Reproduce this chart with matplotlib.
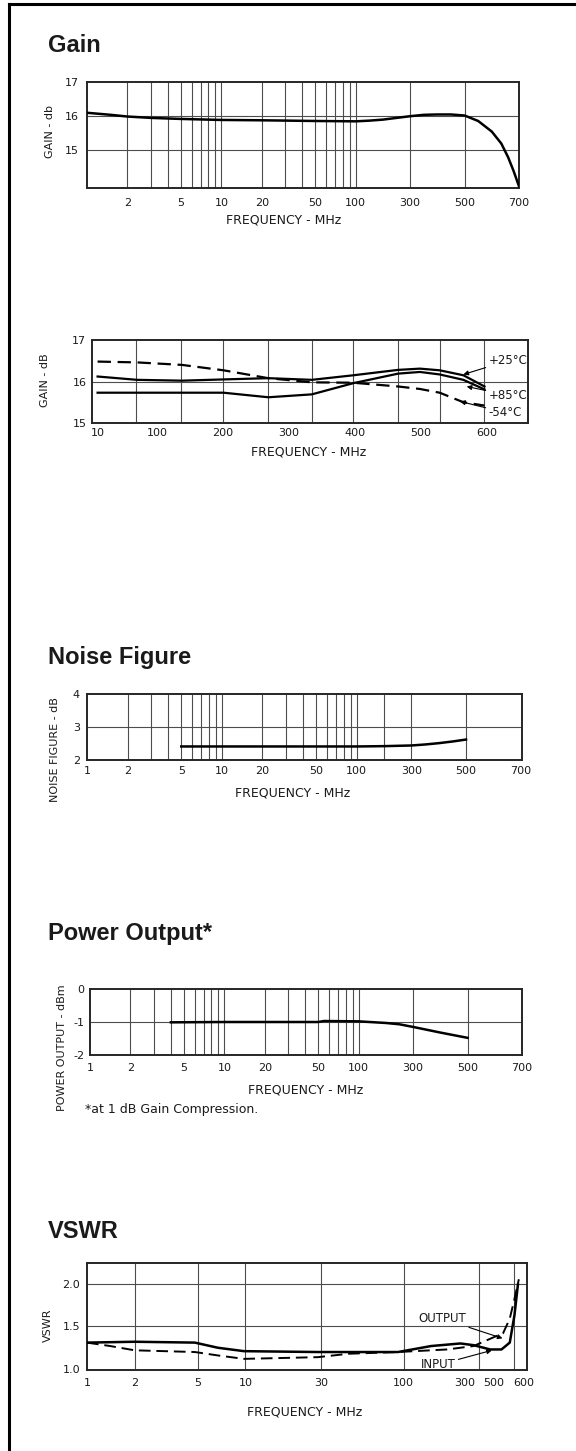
import matplotlib
matplotlib.use('Agg')
import matplotlib.pyplot as plt
import matplotlib.transforms as mtransforms
from matplotlib.lines import Line2D
import numpy as np

# ---- data ----

# gain vs frequency (log/linear frequency axis)
gain_freq = [1, 1.5, 2, 3, 5, 10, 20, 50, 100, 150, 200, 250, 300, 350, 400,
             450, 500, 550, 600, 635, 660, 680, 700]
gain_db = [16.10, 16.04, 15.99, 15.95, 15.92, 15.89, 15.88, 15.86, 15.85, 15.87,
           15.90, 15.95, 16.00, 16.04, 16.05, 16.05, 16.02, 15.86, 15.55, 15.20,
           14.80, 14.40, 13.95]

# gain vs temperature (linear frequency axis)
temp_freq = [10, 70, 138, 201, 269, 335, 398, 466, 499, 529, 565, 597]
gain_p25 = [16.12, 16.04, 16.02, 16.05, 16.08, 16.04, 16.15, 16.28, 16.31, 16.27, 16.15, 15.88]
gain_p85 = [15.73, 15.73, 15.73, 15.73, 15.62, 15.69, 15.96, 16.19, 16.23, 16.17, 16.04, 15.81]
gain_m54 = [16.48, 16.46, 16.40, 16.27, 16.08, 15.98, 15.97, 15.88, 15.82, 15.73, 15.50, 15.42]
temp_labels = ['+25°C', '+85°C', '-54°C']

# noise figure
nf_freq = [5, 10, 50, 100, 200, 300, 350, 400, 450, 500]
nf_db = [2.41, 2.41, 2.41, 2.41, 2.42, 2.44, 2.47, 2.51, 2.56, 2.62]

# power output at 1 dB compression
po_freq = [4, 10, 50, 55, 100, 200, 250, 300, 400, 500]
po_dbm = [-1.01, -1.00, -1.00, -0.97, -0.98, -1.03, -1.07, -1.15, -1.32, -1.48]

# VSWR
vswr_out_freq = [1, 2, 4.8, 6.7, 9.8, 28.7, 92, 149, 228, 276, 351, 414, 467, 500, 526]
vswr_out = [1.31, 1.32, 1.31, 1.25, 1.21, 1.20, 1.20, 1.27, 1.30, 1.28, 1.23, 1.23, 1.31, 1.63, 1.99]
vswr_in_freq = [1, 1.4, 2, 4.8, 6.7, 9.8, 28.7, 45, 92, 188, 276, 367, 424, 467, 500, 533]
vswr_in = [1.31, 1.27, 1.22, 1.20, 1.16, 1.12, 1.14, 1.18, 1.20, 1.23, 1.27, 1.37, 1.42, 1.59, 1.82, 2.05]

# tick / grid values
logx_ticks = [1, 2, 5, 10, 20, 50, 100, 300, 500, 700]
logx_grid = [2, 3, 4, 5, 6, 7, 8, 9, 10, 20, 30, 40, 50, 60, 70, 80, 90, 100, 300, 500]
nf_grid = [2, 3, 4, 5, 6, 7, 8, 9, 10, 20, 30, 40, 50, 60, 70, 80, 90, 100, 200, 300, 500]
temp_ticks = [10, 100, 200, 300, 400, 500, 600]
temp_grid = [69, 137, 201, 268, 335, 398, 466, 529, 597]
vswr_ticks = [1, 2, 5, 10, 30, 100, 300, 500, 600]
vswr_grid = [2, 5, 10, 30, 100, 300, 500]

W, H = 576, 1451
TICK_FONT = ['Liberation Sans Narrow', 'DejaVu Sans']
TITLE_FONT = ['Liberation Sans', 'DejaVu Sans']
FS = 8        # tick labels
FS_X = 9      # x-axis labels / notes
FS_Y = 8      # y-axis labels

fig = plt.figure(figsize=(W / 100, H / 100), dpi=100)
fig.patch.set_facecolor('white')


def box(l, t, r, b):
    return [l / W, 1 - b / H, (r - l) / W, (b - t) / H]


def ftext(x, y, s, **kw):
    kw.setdefault('family', TICK_FONT)
    kw.setdefault('fontsize', FS)
    fig.text(x / W, 1 - y / H, s, color='0.1', **kw)


# log below 100 MHz, linear above (as on the original chart paper)
def fwd(f):
    f = np.clip(np.asarray(f, dtype=float), 1e-3, None)
    return np.where(f <= 100, np.log10(f), 2 + (f - 100) / 200 * 0.405)


def inv(u):
    u = np.asarray(u, dtype=float)
    return np.where(u <= 2, 10 ** np.clip(u, -5, 2), 100 + (u - 2) / 0.405 * 200)


def style(ax, xpad, ypad):
    for s in ax.spines.values():
        s.set_linewidth(1.4)
        s.set_color('0.15')
    ax.tick_params(length=0, labelsize=FS, colors='0.1')
    ax.tick_params(axis='x', pad=xpad)
    ax.tick_params(axis='y', pad=ypad)
    for lab in ax.get_xticklabels() + ax.get_yticklabels():
        lab.set_family(TICK_FONT)


def vgrid(ax, xs, color='0.3', lw=0.8):
    for x in xs:
        ax.axvline(x, color=color, lw=lw, zorder=1)


def hgrid(ax, ys):
    for y in ys:
        ax.axhline(y, color='0.3', lw=0.8, zorder=1)


label_kw = dict(fontsize=8.5, family=TICK_FONT, color='0.1', zorder=5)
arrow = dict(arrowstyle='-|>', color='k', lw=0.8, mutation_scale=7, shrinkA=0, shrinkB=0)

# ---- Gain ----
ftext(48, 52, 'Gain', family=TITLE_FONT, fontsize=17, fontweight='bold', va='baseline')
ax1 = fig.add_axes(box(87, 82, 519, 188))
ax1.set_xscale('function', functions=(fwd, inv))
ax1.set_xlim(1, 700)
ax1.set_ylim(13.9, 17)
vgrid(ax1, logx_grid)
hgrid(ax1, [15, 16])
ax1.plot(gain_freq, gain_db, color='k', lw=1.8, zorder=3)
ax1.set_xticks(logx_ticks[1:])
ax1.set_xticklabels([str(t) for t in logx_ticks[1:]])
ax1.set_yticks([15, 16, 17])
ax1.set_yticklabels(['15', '16', '17'])
ax1.minorticks_off()
style(ax1, 7, 6)
ftext(50, 132, 'GAIN - db', fontsize=FS_Y, rotation=90, ha='center', va='center')
ftext(284, 220, 'FREQUENCY - MHz', fontsize=FS_X, ha='center', va='center')

# ---- Gain vs temperature ----
ax2 = fig.add_axes(box(92, 340, 528, 423))
ax2.set_xlim(1.5, 663)
ax2.set_ylim(15, 17)
vgrid(ax2, temp_grid)
hgrid(ax2, [16])
ax2.plot(temp_freq, gain_p25, color='k', lw=1.6, zorder=3)
ax2.plot(temp_freq, gain_p85, color='k', lw=1.6, zorder=3)
ax2.plot(temp_freq, gain_m54, color='k', lw=1.6, ls=(0, (6, 3)), zorder=3)
ax2.set_xticks(temp_ticks)
ax2.set_xticklabels([str(t) for t in temp_ticks])
ax2.set_yticks([15, 16, 17])
ax2.set_yticklabels(['15', '16', '17'])
style(ax2, 3.6, 4)
ax2.annotate(temp_labels[0], xy=(565, 16.17), xytext=(603, 16.5), va='center',
             arrowprops=arrow, **label_kw)
ax2.annotate(temp_labels[1], xy=(570, 15.88), xytext=(603, 15.67), va='center',
             arrowprops=arrow, **label_kw)
ax2.annotate(temp_labels[2], xy=(560, 15.52), xytext=(603, 15.25), va='center',
             arrowprops=arrow, **label_kw)
ftext(45, 380, 'GAIN - dB', fontsize=FS_Y, rotation=90, ha='center', va='center')
ftext(309, 452, 'FREQUENCY - MHz', fontsize=FS_X, ha='center', va='center')

# ---- Noise Figure ----
ftext(48, 664, 'Noise Figure', family=TITLE_FONT, fontsize=17, fontweight='bold', va='baseline')
ax3 = fig.add_axes(box(87, 694, 522, 760))
ax3.set_xscale('function', functions=(fwd, inv))
ax3.set_xlim(1, 705)
ax3.set_ylim(2, 4)
vgrid(ax3, nf_grid)
hgrid(ax3, [3])
ax3.plot(nf_freq, nf_db, color='k', lw=1.8, zorder=3)
ax3.set_xticks(logx_ticks)
ax3.set_xticklabels([str(t) for t in logx_ticks])
ax3.set_yticks([2, 3, 4])
ax3.set_yticklabels(['2', '3', '4'])
ax3.minorticks_off()
style(ax3, 4.3, 5)
ftext(55, 750, 'NOISE FIGURE - dB', fontsize=FS_Y, rotation=90, ha='center', va='center')
ftext(293, 793, 'FREQUENCY - MHz', fontsize=FS_X, ha='center', va='center')

# ---- Power Output ----
ftext(48, 940, 'Power Output*', family=TITLE_FONT, fontsize=17, fontweight='bold', va='baseline')
ax4 = fig.add_axes(box(90, 989, 522, 1055))
ax4.set_xscale('function', functions=(fwd, inv))
ax4.set_xlim(1, 700)
ax4.set_ylim(-2, 0)
vgrid(ax4, logx_grid)
hgrid(ax4, [-1])
ax4.plot(po_freq, po_dbm, color='k', lw=1.8, zorder=3)
ax4.set_xticks(logx_ticks)
ax4.set_xticklabels([str(t) for t in logx_ticks])
ax4.set_yticks([-2, -1, 0])
ax4.set_yticklabels(['-2', '-1', '0'])
ax4.minorticks_off()
style(ax4, 5.8, 4)
ftext(62, 1048, 'POWER OUTPUT - dBm', fontsize=FS_Y, rotation=90, ha='center', va='center')
ftext(306, 1090, 'FREQUENCY - MHz', fontsize=FS_X, ha='center', va='center')
ftext(85, 1110, '*at 1 dB Gain Compression.', fontsize=FS_X, ha='left', va='center')

# ---- VSWR ----
ftext(48, 1238, 'VSWR', family=TITLE_FONT, fontsize=17, fontweight='bold', va='baseline')
ax5 = fig.add_axes(box(87, 1263, 527, 1370))
ax5.set_xscale('log')
ax5.set_xlim(1, 600)
ax5.set_ylim(0.99, 2.24)
vgrid(ax5, vswr_grid)
hgrid(ax5, [1.5, 2.0])
ax5.plot(vswr_out_freq, vswr_out, color='k', lw=1.8, zorder=3)
ax5.plot(vswr_in_freq, vswr_in, color='k', lw=1.4, ls=(0, (6, 3)), zorder=3)
ax5.set_xticks(vswr_ticks)
ax5.set_xticklabels([str(t) for t in vswr_ticks])
ax5.minorticks_off()
ax5.set_yticks([1.0, 1.5, 2.0])
ax5.set_yticklabels(['1.0', '1.5', '2.0'])
style(ax5, 5.8, 5)
# the 300/500 labels are squeezed to the left on the original
for lab, dx in zip(ax5.get_xticklabels()[-3:], [-15, -21, -3]):
    lab.set_transform(lab.get_transform() + mtransforms.ScaledTranslation(dx / 100, 0, fig.dpi_scale_trans))
ax5.annotate('OUTPUT', xy=(420, 1.36), xytext=(175, 1.59), ha='center', va='center',
             arrowprops=arrow, **label_kw)
ax5.annotate('INPUT', xy=(360, 1.22), xytext=(165, 1.05), ha='center', va='center',
             arrowprops=arrow, **label_kw)
ftext(48, 1325, 'VSWR', fontsize=FS_Y, rotation=90, ha='center', va='center')
ftext(305, 1412, 'FREQUENCY - MHz', fontsize=FS_X, ha='center', va='center')

# page frame (left and top edges only)
fig.add_artist(Line2D([9 / W, 9 / W], [0, 1 - 4 / H], color='k', lw=2.2, transform=fig.transFigure))
fig.add_artist(Line2D([9 / W, 1], [1 - 4 / H, 1 - 4 / H], color='k', lw=2.2, transform=fig.transFigure))

fig.savefig('out.png', dpi=100, facecolor='white')
